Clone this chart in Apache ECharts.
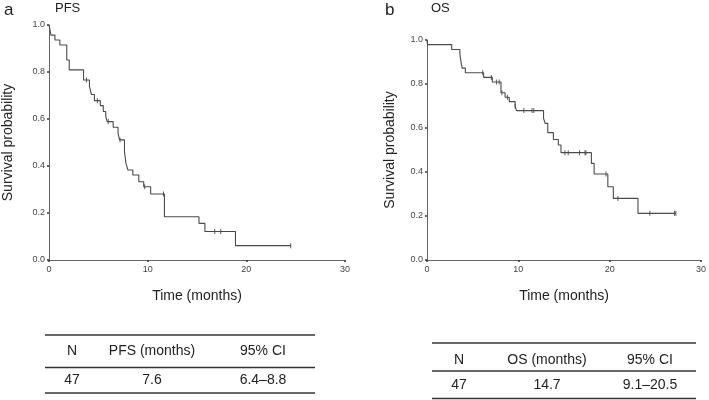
<!DOCTYPE html>
<html>
<head>
<meta charset="utf-8">
<script src="https://cdn.jsdelivr.net/npm/echarts@6/dist/echarts.min.js"></script>
<style>html,body{margin:0;padding:0;background:#fff}#c{width:709px;height:400px}</style>
</head>
<body>
<div id="c"></div>
<script>
// ---- data ----
const pfsTimes = [0, 0.1, 0.2, 0.6, 1.1, 1.8, 2.05, 3.5, 4.1, 4.3, 4.6, 5.2, 5.5, 5.75, 5.9, 6.5, 7.0, 7.15, 7.65, 7.8, 8.0, 8.5, 9.1, 9.6, 10.3, 11.7, 15.2, 15.8, 18.9];
const pfsSurv  = [1.0, 0.979, 0.957, 0.936, 0.915, 0.851, 0.809, 0.766, 0.739, 0.704, 0.678, 0.657, 0.632, 0.611, 0.589, 0.565, 0.539, 0.511, 0.461, 0.411, 0.383, 0.362, 0.333, 0.312, 0.281, 0.184, 0.156, 0.121, 0.061];
const pfsCensorTimes = [3.8, 4.9, 6.0, 7.2, 9.7, 11.6, 16.8, 17.4, 24.5];
const pfsCensorSurv  = [0.766, 0.678, 0.589, 0.511, 0.312, 0.281, 0.121, 0.121, 0.061];

const osTimes = [0, 0.05, 2.7, 3.6, 3.75, 3.85, 4.2, 6.2, 7.15, 8.1, 8.55, 9.0, 9.65, 9.8, 12.76, 12.94, 13.22, 13.84, 14.38, 14.67, 18.0, 18.3, 19.8, 20.4, 23.1];
const osSurv  = [1.0, 0.979, 0.957, 0.936, 0.894, 0.872, 0.851, 0.83, 0.809, 0.76, 0.74, 0.72, 0.70, 0.679, 0.644, 0.621, 0.579, 0.548, 0.523, 0.488, 0.439, 0.391, 0.333, 0.28, 0.212];
const osCensorTimes = [6.1, 7.05, 7.6, 7.9, 8.2, 8.8, 9.65, 10.6, 11.5, 11.7, 15.1, 15.46, 16.7, 17.3, 17.4, 19.6, 20.9, 24.4, 27.1, 27.25];
const osCensorSurv  = [0.851, 0.83, 0.809, 0.809, 0.76, 0.74, 0.70, 0.679, 0.679, 0.679, 0.488, 0.488, 0.488, 0.488, 0.488, 0.391, 0.28, 0.212, 0.212, 0.212];

const xTicks = [0, 10, 20, 30];
const yTicks = [0, 0.2, 0.4, 0.6, 0.8, 1.0];

const tableHeaderPFS = ['N', 'PFS (months)', '95% CI'];
const tableRowPFS = ['47', '7.6', '6.4–8.8'];
const tableHeaderOS = ['N', 'OS (months)', '95% CI'];
const tableRowOS = ['47', '14.7', '9.1–20.5'];

// ---- build ----
const FONT = 'Liberation Sans, Arial, sans-serif';
const LINE = '#4a4a4a';
function stepData(t, s, cT) {
  const d = t.map((v, i) => [v, s[i]]);
  d.push([cT[cT.length - 1], s[s.length - 1]]);
  return d;
}
function pairs(t, s) { return t.map((v, i) => [v, s[i]]); }

function xAxis(gi) {
  return {
    type: 'value', gridIndex: gi, min: xTicks[0], max: xTicks[xTicks.length - 1], interval: 10,
    name: 'Time (months)', nameLocation: 'middle', nameGap: 29,
    nameTextStyle: { fontSize: 14, color: '#222', fontFamily: FONT },
    axisLine: { show: true, lineStyle: { color: '#666', width: 1 } },
    axisTick: { show: true, length: 2, lineStyle: { color: '#333', width: 1.5 } },
    axisLabel: { fontSize: 9, color: '#444', fontFamily: FONT, margin: 5 },
    splitLine: { show: false }
  };
}
function yAxis(gi, gap) {
  return {
    type: 'value', gridIndex: gi, min: yTicks[0], max: yTicks[yTicks.length - 1], interval: 0.2,
    name: 'Survival probability', nameLocation: 'middle', nameGap: gap,
    nameTextStyle: { fontSize: 14, color: '#222', fontFamily: FONT },
    axisLine: { show: true, lineStyle: { color: '#666', width: 1 } },
    axisTick: { show: true, length: 2, lineStyle: { color: '#333', width: 1.5 } },
    axisLabel: { fontSize: 9, color: '#444', fontFamily: FONT, margin: 4, formatter: v => v.toFixed(1) },
    splitLine: { show: false }
  };
}

function tableGraphics(cols, header, row, y) {
  const g = [];
  const x1 = y.x1, x2 = y.x2;
  [y.top, y.mid, y.bot].forEach(yy => g.push({
    type: 'line', shape: { x1: x1, y1: yy, x2: x2, y2: yy },
    style: { stroke: '#333', lineWidth: 1.3 }
  }));
  header.forEach((t, i) => g.push({
    type: 'text', x: cols[i], y: y.h,
    style: { text: t, fontSize: 14, fontFamily: FONT, fill: '#222', align: 'center', verticalAlign: 'middle' }
  }));
  row.forEach((t, i) => g.push({
    type: 'text', x: cols[i], y: y.r,
    style: { text: t, fontSize: 14, fontFamily: FONT, fill: '#222', align: 'center', verticalAlign: 'middle' }
  }));
  return g;
}

const graphics = [
  { type: 'text', x: 4, y: 10, style: { text: 'a', fontSize: 17, fontFamily: FONT, fill: '#222', align: 'left', verticalAlign: 'middle' } },
  { type: 'text', x: 55, y: 8, style: { text: 'PFS', fontSize: 13, fontFamily: FONT, fill: '#222', align: 'left', verticalAlign: 'middle' } },
  { type: 'text', x: 385, y: 10, style: { text: 'b', fontSize: 17, fontFamily: FONT, fill: '#222', align: 'left', verticalAlign: 'middle' } },
  { type: 'text', x: 431, y: 8, style: { text: 'OS', fontSize: 13, fontFamily: FONT, fill: '#222', align: 'left', verticalAlign: 'middle' } }
].concat(
  tableGraphics([72, 152, 263], tableHeaderPFS, tableRowPFS, { x1: 45, x2: 315, top: 335, mid: 367.5, bot: 393, h: 351.5, r: 380 }),
  tableGraphics([459, 547, 650], tableHeaderOS, tableRowOS, { x1: 432, x2: 696, top: 343, mid: 371, bot: 398.5, h: 360, r: 385.5 })
);

const chart = echarts.init(document.getElementById('c'), null, { renderer: 'canvas' });
chart.setOption({
  animation: false,
  backgroundColor: '#fff',
  grid: [
    { left: 49, top: 25, width: 296, height: 235 },
    { left: 427, top: 40, width: 277, height: 220 }
  ],
  xAxis: [xAxis(0), xAxis(1)],
  yAxis: [yAxis(0, 34), yAxis(1, 30)],
  series: [
    { type: 'line', xAxisIndex: 0, yAxisIndex: 0, step: 'end', showSymbol: false, symbol: 'none',
      lineStyle: { color: LINE, width: 1.1 }, data: stepData(pfsTimes, pfsSurv, pfsCensorTimes) },
    { type: 'scatter', xAxisIndex: 0, yAxisIndex: 0, symbol: 'rect', symbolSize: [1, 5],
      itemStyle: { color: '#333' }, data: pairs(pfsCensorTimes, pfsCensorSurv) },
    { type: 'line', xAxisIndex: 1, yAxisIndex: 1, step: 'end', showSymbol: false, symbol: 'none',
      lineStyle: { color: LINE, width: 1.1 }, data: stepData(osTimes, osSurv, osCensorTimes) },
    { type: 'scatter', xAxisIndex: 1, yAxisIndex: 1, symbol: 'rect', symbolSize: [1, 5],
      itemStyle: { color: '#333' }, data: pairs(osCensorTimes, osCensorSurv) }
  ],
  graphic: graphics
});
</script>
</body>
</html>
